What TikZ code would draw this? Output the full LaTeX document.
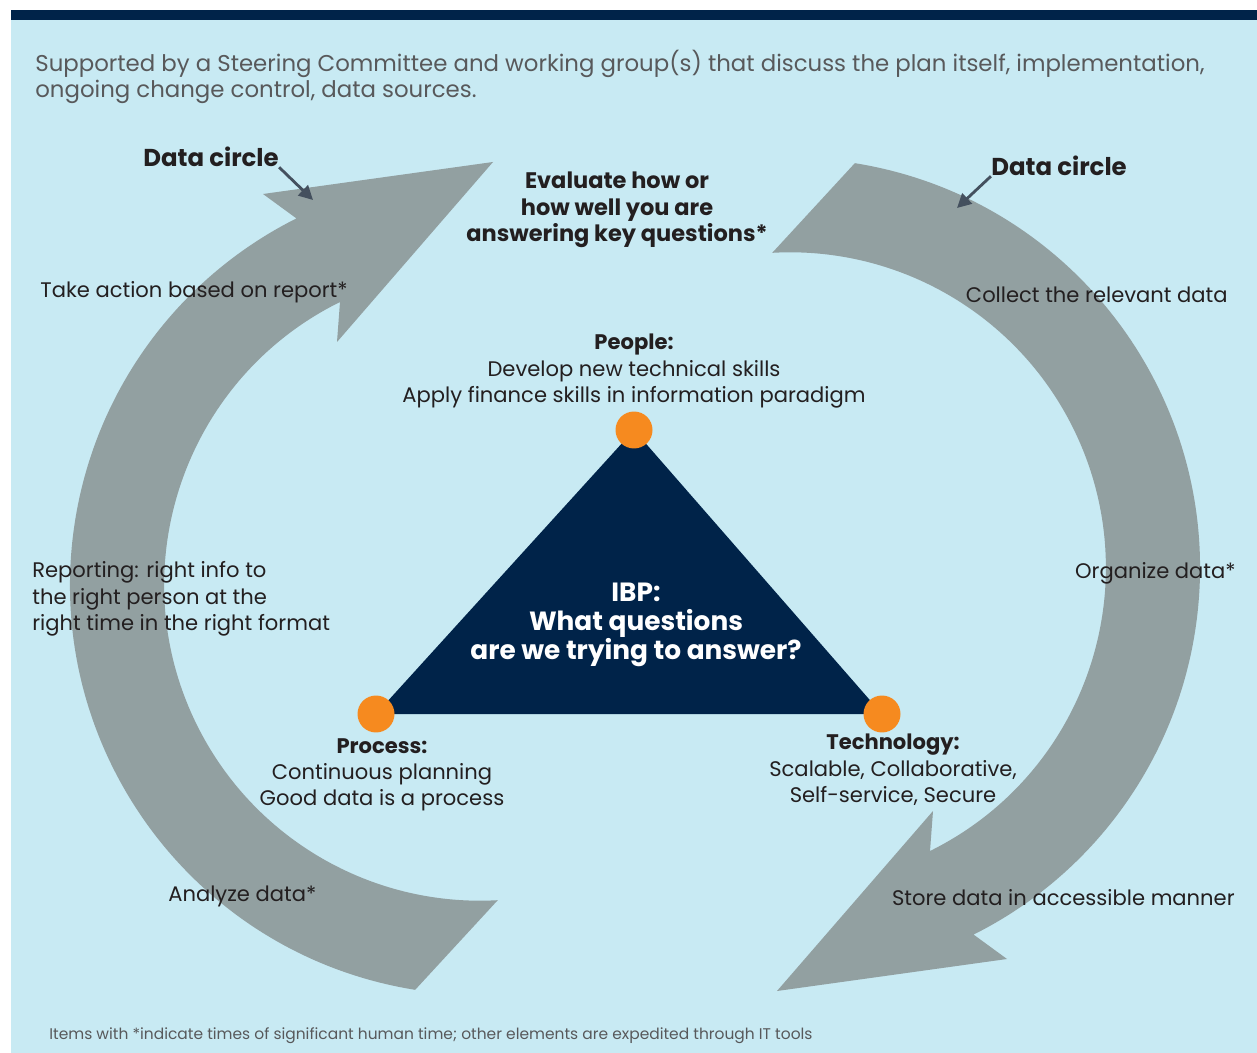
\documentclass[tikz,border=0pt]{standalone}
\usepackage{fontspec}
\setmainfont{Poppins}
\usetikzlibrary{arrows.meta, positioning}

\definecolor{skyback}{RGB}{200,234,243}
\definecolor{navy}{RGB}{0,35,73}
\definecolor{loopgray}{RGB}{146,160,161}
\definecolor{dotorange}{RGB}{246,138,31}
\definecolor{inktext}{RGB}{35,31,32}
\definecolor{introgray}{RGB}{88,89,91}
\definecolor{pointergray}{RGB}{68,80,94}

\begin{document}
\begin{tikzpicture}[
    x=0.02cm, y=-0.02cm,
    txt/.style={inner sep=0pt, text=inktext, font=\fontsize{12}{15}\selectfont},
    headtxt/.style={txt, font=\fontsize{12.8}{15}\selectfont\bfseries, align=center},
    vlabel/.style={txt, align=center},
    loop/.style={fill=loopgray},
    dot/.style={circle, fill=dotorange, minimum size=0.74cm, inner sep=0pt},
    pointer/.style={-{Triangle[length=8pt, width=8pt]}, line width=1.6pt, draw=pointergray}
]

% page and header bar
\useasboundingbox (0,0) rectangle (1257,1053);
\fill[white] (0,0) rectangle (1257,1053);
\fill[skyback] (11,20) rectangle (1257,1053);
\fill[navy] (11,10) rectangle (1257,20.5);

% the two data circle arrows
\fill[loop] ([shift={(480,585)}]99.1:410) arc[start angle=99.1, end angle=243.4, radius=410]
    -- (263,194) -- (493,162) -- (337,342) -- (340,302)
    arc[start angle=243.7, end angle=86.75, radius=315.7] -- cycle;
\fill[loop] ([shift={(790,568)}]279.1:410) arc[start angle=279.1, end angle=423.4, radius=410]
    -- (1007,959) -- (777,991) -- (933,811) -- (930,851)
    arc[start angle=63.7, end angle=-93.25, radius=315.7] -- cycle;

% IBP triangle
\coordinate (apex) at (634,430);
\coordinate (lcorner) at (376,714);
\coordinate (rcorner) at (882,714);
\fill[navy] (apex) -- (lcorner) -- (rcorner) -- cycle;
\node[dot] (peopledot) at (apex) {};
\node[dot] (processdot) at (lcorner) {};
\node[dot] (techdot) at (rcorner) {};

\node[txt, text=white, font=\fontsize{15}{16.5}\selectfont\bfseries, align=center] (ibp) at (636,625)
    {IBP:\\What questions\\are we trying to answer?};

% corner labels
\node[vlabel, above=0.05cm of peopledot] (people)
    {\textbf{People:}\\Develop new technical skills\\Apply finance skills in information paradigm};
\node[vlabel, below=0.1cm of processdot, xshift=0.12cm] (process)
    {\textbf{Process:}\\Continuous planning\\Good data is a process};
\node[vlabel, below=0.02cm of techdot, xshift=0.22cm] (tech)
    {\textbf{Technology:}\\Scalable, Collaborative,\\Self-service, Secure};

% intro and footnote
\node[txt, text=introgray, font=\fontsize{13}{15}\selectfont, align=left, anchor=west] (intro) at (35,77)
    {Supported by a Steering Committee and working group(s) that discuss the plan itself, implementation,\\ongoing change control, data sources.};
\node[txt, text=introgray, font=\fontsize{8.8}{10}\selectfont, anchor=west] (footnote) at (49,1036)
    {Items with *indicate times of significant human time; other elements are expedited through IT tools};

% steps around the circles
\node[headtxt] (evaluate) at (617,210) {Evaluate how or\\how well you are\\answering key questions*};
\node[txt, anchor=west] (takeaction) at (40,292) {Take action based on report*};
\node[txt, anchor=east] (collect) at (1228,295) {Collect the relevant data};
\node[txt, anchor=west, align=left] (reporting) at (32,599)
    {Reporting: right info to\\the right person at the\\right time in the right format};
\node[txt, anchor=east] (organize) at (1236,573) {Organize data*};
\node[txt, anchor=west] (analyze) at (168,896) {Analyze data*};
\node[txt, anchor=east] (store) at (1235,898) {Store data in accessible manner};

% data circle callouts
\node[txt, font=\fontsize{13.9}{16}\selectfont\bfseries] (dcleft) at (211,157) {Data circle};
\node[txt, font=\fontsize{13.9}{16}\selectfont\bfseries] (dcright) at (1059,166) {Data circle};
\coordinate (dclefttip) at (313,200);
\coordinate (dcrighttip) at (957,208);
\draw[pointer] (dcleft.south east) -- (dclefttip);
\draw[pointer] (dcright.south west) -- (dcrighttip);

\end{tikzpicture}
\end{document}
